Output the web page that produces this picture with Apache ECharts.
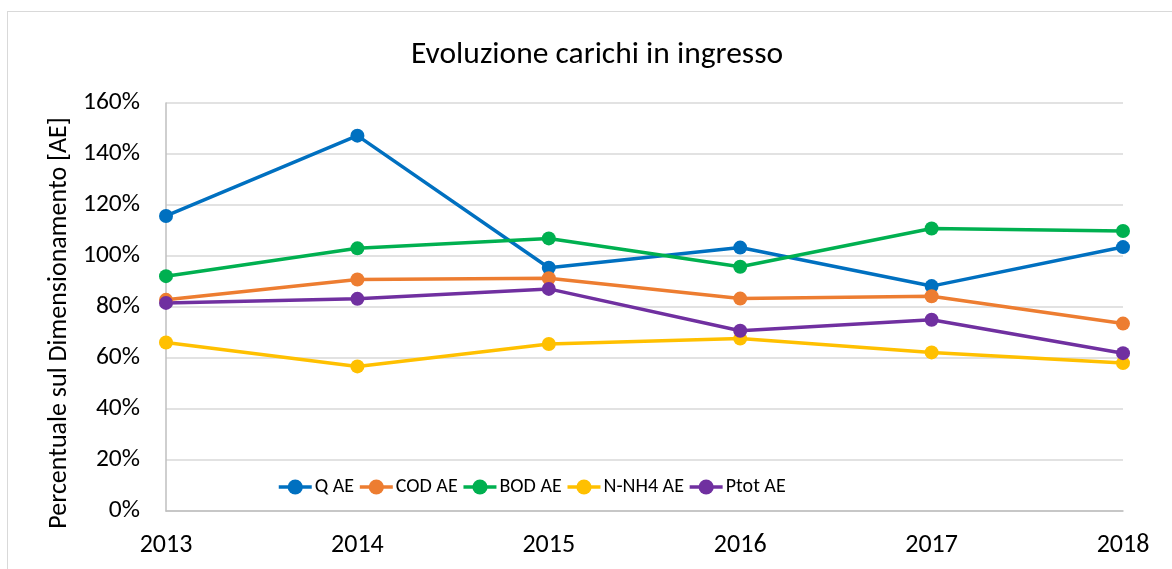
<!DOCTYPE html>
<html>
<head>
<meta charset="utf-8">
<script src="https://cdn.jsdelivr.net/npm/echarts@6/dist/echarts.min.js"></script>
<style>
  html, body { margin: 0; padding: 0; background: #fff; }
  #frame { position: absolute; left: 7px; top: 11px; width: 1300px; height: 700px; border-left: 1px solid #d9d9d9; border-top: 1px solid #d9d9d9; }
  #chart { position: absolute; left: 0; top: 0; width: 1172px; height: 569px; }
</style>
</head>
<body>
<div id="frame"></div>
<div id="chart"></div>
<script>
// dati (percentuale sul dimensionamento)
const years = ['2013', '2014', '2015', '2016', '2017', '2018']
const qAE = [115.7, 147.2, 95.4, 103.3, 88.2, 103.5]
const codAE = [82.8, 90.8, 91.3, 83.3, 84.2, 73.5]
const bodAE = [92.1, 103.0, 106.9, 95.8, 110.8, 109.8]
const nnh4AE = [66.1, 56.7, 65.5, 67.6, 62.2, 58.0]
const ptotAE = [81.6, 83.2, 87.1, 70.7, 75.0, 61.9]

const FONT = "Carlito, 'Liberation Sans Narrow', 'Noto Sans', sans-serif"

const myChart = echarts.init(document.getElementById('chart'))

const makeSeries = (name, data, color) => ({
  name,
  type: 'line',
  data,
  symbol: 'circle',
  symbolSize: 14,
  lineStyle: { color, width: 3.5 },
  itemStyle: { color },
  emphasis: { disabled: true }
})

const option = {
  animation: false,
  textStyle: { fontFamily: FONT },
  title: {
    text: 'Evoluzione carichi in ingresso',
    left: 592,
    top: 34,
    textAlign: 'center',
    textStyle: { fontFamily: FONT, fontSize: 31.5, fontWeight: 'normal', color: '#000' }
  },
  legend: {
    left: 272,
    top: 472,
    itemWidth: 33,
    itemHeight: 19,
    itemGap: 4,
    lineStyle: { width: 3.5 },
    textStyle: { fontFamily: FONT, fontSize: 20, color: '#000', padding: [0, 0, 0, -2] },
    data: ['Q AE', 'COD AE', 'BOD AE', 'N-NH4 AE', 'Ptot AE']
  },
  grid: { left: 166, right: 49, top: 103, bottom: 58 },
  xAxis: {
    type: 'category',
    data: years,
    boundaryGap: false,
    axisLine: { lineStyle: { color: '#bfbfbf', width: 1.5 } },
    axisTick: { show: false },
    axisLabel: { fontFamily: FONT, fontSize: 26, color: '#000', margin: 21 },
    splitLine: { show: false }
  },
  yAxis: {
    type: 'value',
    min: 0,
    max: 160,
    interval: 20,
    name: 'Percentuale sul Dimensionamento [AE]',
    nameLocation: 'middle',
    nameGap: 90,
    nameTextStyle: { fontFamily: FONT, fontSize: 26, color: '#000', padding: [0, 32, 0, 0] },
    axisLine: { show: true, lineStyle: { color: '#bfbfbf', width: 1.5 } },
    axisTick: { show: false },
    axisLabel: { fontFamily: FONT, fontSize: 25.5, color: '#000', margin: 26, formatter: '{value}%' },
    splitLine: { lineStyle: { color: '#d9d9d9', width: 1.5 } }
  },
  series: [
    makeSeries('Q AE', qAE, '#0070c0'),
    makeSeries('COD AE', codAE, '#ed7d31'),
    makeSeries('BOD AE', bodAE, '#00b050'),
    makeSeries('N-NH4 AE', nnh4AE, '#ffc000'),
    makeSeries('Ptot AE', ptotAE, '#7030a0')
  ]
}

myChart.setOption(option)
</script>
</body>
</html>
